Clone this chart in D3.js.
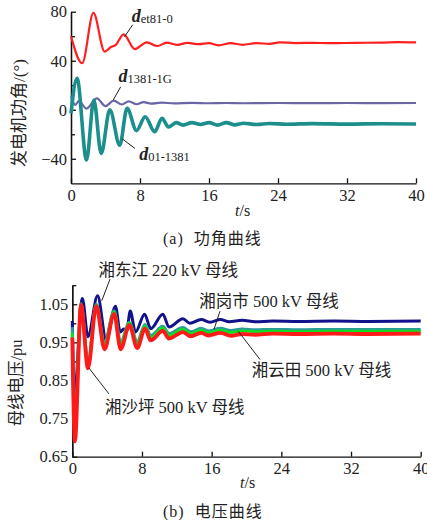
<!DOCTYPE html>
<html>
<head>
<meta charset="utf-8">
<script src="https://cdn.jsdelivr.net/npm/d3@7"></script>
<style>
  body { margin: 0; background: #fff; }
  text { font-family: "Liberation Serif", "Noto Sans CJK SC", serif; fill: #222; white-space: pre; }
</style>
</head>
<body>
<div class="canvas"></div>
<script>
// (a) generator power angle, t in s, angle in degrees
const tEt = [0, 1.3, 2.6, 3.9, 4.6, 5.2, 6.1, 7.4, 8.8, 10.0, 11.1, 12.3, 13.5, 14.8, 16.0, 17.1, 18.5, 19.9, 21.5, 23.0, 24.2, 26, 28, 30, 33, 36, 38, 40];
const dEt = [60, 38, 79, 47.5, 51, 53, 61.5, 49.5, 55, 52, 54.7, 53, 54.5, 53.5, 54.3, 52.5, 54.3, 53, 54.3, 53.8, 55, 54.4, 54.6, 54.3, 54.6, 54.8, 55.2, 54.9];

const t1G = [0, 0.5, 0.9, 1.8, 3.0, 4.0, 4.95, 5.9, 6.7, 7.6, 8.4, 9.3, 10.5, 12, 14, 16, 18, 20, 24, 28, 32, 36, 40];
const d1G = [11, 4, 7, 1, 9.3, 3, 7.4, 4.3, 6.8, 4.5, 6.2, 5, 5.8, 5.2, 5.6, 5.3, 5.5, 5.3, 5.5, 5.4, 5.5, 5.4, 5.5];

const t01 = [0, 0.7, 1.8, 2.65, 3.5, 4.5, 5.65, 6.5, 7.6, 8.6, 9.7, 10.55, 11.3, 12.2, 13.0, 14.0, 15.0, 16.0, 17.0, 18.0, 19.0, 20.0, 21.5, 23, 25, 28, 32, 36, 40];
const d01 = [-3, 25.7, -41, 8, -35.7, 0, -29, 1.2, -17, -5.7, -18, -7, -14, -10.5, -12.5, -10.5, -12, -10.5, -12.5, -10.5, -12.3, -11, -12, -11.2, -11.8, -11.3, -11.7, -11.4, -11.6];

// (b) bus voltage, pu
const tDong = [0, 0.2, 1.15, 1.8, 2.9, 3.9, 4.95, 5.5, 5.9, 6.25, 6.65, 7.25, 8.3, 9.0, 10.4, 11.1, 12.7, 13.5, 14.8, 15.8, 17.0, 18.0, 19.5, 21.0, 23, 26, 30, 34, 40];
const vDong = [1.006, 0.80, 1.065, 0.965, 1.072, 0.955, 1.045, 0.977, 0.985, 0.98, 1.032, 0.977, 1.024, 0.986, 1.024, 0.99, 1.012, 1.0, 1.01, 1.003, 1.01, 1.004, 1.008, 1.004, 1.006, 1.005, 1.006, 1.005, 1.006];

const tBus = [0, 0.3, 1.0, 1.8, 2.75, 3.7, 4.8, 5.55, 6.55, 7.45, 8.35, 9.0, 10.4, 11.1, 12.7, 13.6, 14.8, 15.6, 17.0, 18.2, 19.5, 21.0, 23, 26, 30, 34, 40];
const vGang = [0.99, 0.74, 1.052, 0.9, 1.05, 0.95, 1.033, 0.95, 1.003, 0.952, 0.997, 0.968, 0.992, 0.973, 0.989, 0.978, 0.987, 0.98, 0.987, 0.981, 0.985, 0.983, 0.984, 0.983, 0.984, 0.984, 0.984];
const vYun = [0.975, 0.72, 1.05, 0.895, 1.048, 0.945, 1.03, 0.945, 1.0, 0.947, 0.993, 0.963, 0.988, 0.968, 0.984, 0.973, 0.982, 0.975, 0.982, 0.976, 0.98, 0.978, 0.979, 0.978, 0.979, 0.979, 0.979];
const vSha = [0.963, 0.69, 1.048, 0.882, 1.045, 0.932, 1.025, 0.932, 0.995, 0.935, 0.986, 0.955, 0.98, 0.96, 0.977, 0.966, 0.975, 0.968, 0.975, 0.967, 0.972, 0.97, 0.973, 0.972, 0.973, 0.972, 0.973];

const timeTicks = [0, 8, 16, 24, 32, 40];
const angleTicks = [-40, 0, 40, 80];
const angleMinor = [-20, 20, 60];
const voltTicks = [0.65, 0.75, 0.85, 0.95, 1.05];
const voltMinor = [0.70, 0.80, 0.90, 1.00, 1.10];

const svg = d3.select(".canvas")
  .append("svg")
    .attr("width", 427)
    .attr("height", 520);

// shared axis drawing: ticks point inward, labels on the outside
function axes(x, y, yTicks, yMinor, yFmt) {
  const g = svg.append("g");
  g.append("g")
    .attr("transform", `translate(0,${y.range()[0]})`)
    .call(d3.axisBottom(x).tickValues(timeTicks).tickSize(-5).tickSizeOuter(0).tickPadding(6));
  g.append("g")
    .attr("transform", `translate(${x.range()[0]},0)`)
    .call(d3.axisLeft(y).tickValues(yTicks).tickFormat(yFmt).tickSize(-5).tickSizeOuter(0).tickPadding(4));
  g.append("g")
    .attr("transform", `translate(${x.range()[0]},0)`)
    .call(d3.axisLeft(y).tickValues(yMinor).tickFormat("").tickSize(-4).tickSizeOuter(0));
  g.selectAll(".domain, .tick line").attr("stroke", "#111").attr("stroke-width", 1.3);
  g.selectAll(".tick text").attr("font-size", 16.5).attr("font-family", "Liberation Serif").attr("fill", "#222");
  return g;
}

function line(x, y) {
  return d3.line().x(d => x(d[0])).y(d => y(d[1])).curve(d3.curveMonotoneX);
}

function leader(x, y, from, to) {
  svg.append("line")
    .attr("x1", x(from[0])).attr("y1", y(from[1]))
    .attr("x2", x(to[0])).attr("y2", y(to[1]))
    .attr("stroke", "#222").attr("stroke-width", 1);
}

// ---------- (a)
const xa = d3.scaleLinear().domain([0, 40]).range([71, 416]);
const ya = d3.scaleLinear().domain([-60, 80]).range([183.3, 11.7]);
axes(xa, ya, angleTicks, angleMinor, d => d < 0 ? "\u2212" + Math.abs(d) : d);

const angleSeries = [
  { t: tEt, v: dEt, color: "#ff1f1f", w: 2.2 },
  { t: t1G, v: d1G, color: "#6a66a6", w: 2.2 },
  { t: t01, v: d01, color: "#1c8f8c", w: 3.6 },
];
const la = line(xa, ya);
svg.append("g").selectAll("path")
  .data(angleSeries)
  .enter()
    .append("path")
    .attr("d", s => la(d3.zip(s.t, s.v)))
    .attr("fill", "none")
    .attr("stroke", s => s.color)
    .attr("stroke-width", s => s.w)
    .attr("stroke-linejoin", "round");

const angleNotes = [
  { sub: "et81-0", at: [7.04, 71.8], from: [7.15, 69.3], to: [6.2, 59.5] },
  { sub: "1381-1G", at: [5.5, 22.8], from: [5.76, 18.7], to: [4.9, 8.0] },
  { sub: "01-1381", at: [7.9, -41.2], from: [7.42, -31.6], to: [5.9, -23.5] },
];
angleNotes.forEach(n => {
  leader(xa, ya, n.from, n.to);
  const t = svg.append("text").attr("x", xa(n.at[0])).attr("y", ya(n.at[1]));
  t.append("tspan").attr("font-size", 18).attr("font-weight", "bold").attr("font-style", "italic").text("d");
  t.append("tspan").attr("font-size", 12.5).attr("dy", 1).text(n.sub);
});

svg.append("text")
  .attr("transform", "translate(25,113) rotate(-90)")
  .attr("text-anchor", "middle")
  .attr("font-size", 17)
  .text("发电机功角/(°)");

svg.append("text").attr("x", 235).attr("y", 216).attr("font-size", 16)
  .html('<tspan font-style="italic">t</tspan>/s');
svg.append("text").attr("x", 163).attr("y", 244).attr("font-size", 16).attr("letter-spacing", 1)
  .text("(a)  功角曲线");

// ---------- (b)
const xb = d3.scaleLinear().domain([0, 40]).range([72.3, 420.7]);
const yb = d3.scaleLinear().domain([0.65, 1.10]).range([456.7, 285.2]);
axes(xb, yb, voltTicks, voltMinor, d3.format(".2f"));

const voltSeries = [
  { t: tDong, v: vDong, color: "#12128c", w: 3 },
  { t: tBus, v: vGang, color: "#2a9b98", w: 3 },
  { t: tBus, v: vYun, color: "#10dd22", w: 3 },
  { t: tBus, v: vSha, color: "#ff1a1a", w: 3.8 },
];
const lb = line(xb, yb);
svg.append("g").selectAll("path")
  .data(voltSeries)
  .enter()
    .append("path")
    .attr("d", s => lb(d3.zip(s.t, s.v)))
    .attr("fill", "none")
    .attr("stroke", s => s.color)
    .attr("stroke-width", s => s.w)
    .attr("stroke-linejoin", "round");

const voltNotes = [
  { name: "湘东江 220 kV 母线", at: [3.0, 1.123], from: [4.33, 1.116], to: [3.38, 1.059] },
  { name: "湘岗市 500 kV 母线", at: [14.58, 1.042], from: [16.96, 1.032], to: [16.27, 0.984] },
  { name: "湘云田 500 kV 母线", at: [20.6, 0.861], from: [21.55, 0.905], to: [19.06, 0.979] },
  { name: "湘沙坪 500 kV 母线", at: [3.75, 0.765], from: [4.2, 0.815], to: [1.9, 0.883] },
];
voltNotes.forEach(n => {
  leader(xb, yb, n.from, n.to);
  svg.append("text")
    .attr("x", xb(n.at[0])).attr("y", yb(n.at[1]))
    .attr("font-size", 16.5)
    .text(n.name);
});

svg.append("text")
  .attr("transform", "translate(22,383) rotate(-90)")
  .attr("text-anchor", "middle")
  .attr("font-size", 16.5)
  .text("母线电压/pu");

svg.append("text").attr("x", 240).attr("y", 488).attr("font-size", 16)
  .html('<tspan font-style="italic">t</tspan>/s');
svg.append("text").attr("x", 163).attr("y", 517).attr("font-size", 16).attr("letter-spacing", 1)
  .text("(b)  电压曲线");
</script>
</body>
</html>
